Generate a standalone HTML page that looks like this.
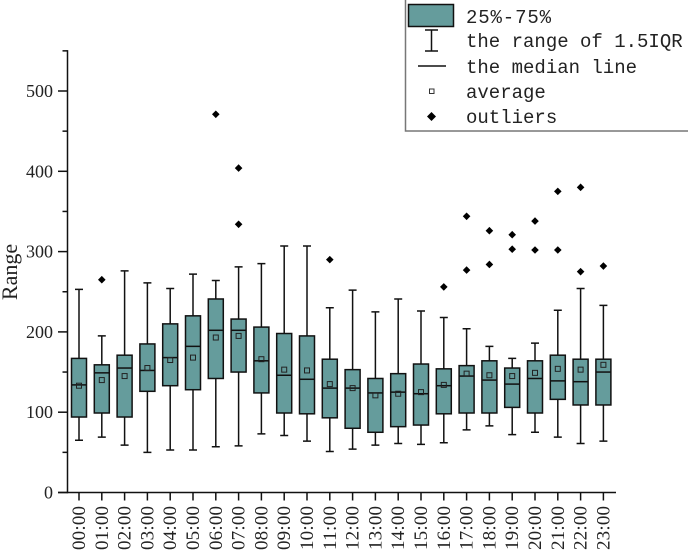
<!DOCTYPE html>
<html>
<head>
<meta charset="utf-8">
<style>
html,body{margin:0;padding:0;background:#fff;width:688px;height:554px;overflow:hidden}
svg{display:block}
.tick{font-family:"Liberation Serif",serif;font-size:18px;fill:#222}
.xtick{font-family:"Liberation Serif",serif;font-size:19px;fill:#222}
.leg{font-family:"Liberation Mono",monospace;font-size:19px;fill:#222}
</style>
</head>
<body>
<svg id="chart" width="688" height="554" viewBox="0 0 688 554" xmlns="http://www.w3.org/2000/svg">
  <g id="plot"></g>
  <g id="axes"></g>
  <text transform="translate(17,272) rotate(-90)" text-anchor="middle" style="font-family:'Liberation Serif',serif;font-size:22px;fill:#222;">Range</text>
  <g>
    <rect x="405.5" y="-2" width="290" height="133" fill="#fff" stroke="#777" stroke-width="1.5"/>
    <rect x="408.5" y="4.5" width="45" height="22" fill="#659c9c" stroke="#111" stroke-width="1.5"/>
    <path d="M425 30H438M431.5 30V51M425 51H438" fill="none" stroke="#111" stroke-width="1.5"/>
    <path d="M418 66H446" stroke="#111" stroke-width="1.5"/>
    <rect x="429.5" y="89" width="4.5" height="4.5" fill="#fff" stroke="#333" stroke-width="1"/>
    <path d="M431.5 112L436 116.5L431.5 121L427 116.5Z" fill="#000"/>
    <text class="leg" x="466" y="23" textLength="85" lengthAdjust="spacing">25%-75%</text>
    <text class="leg" x="466" y="47">the range of 1.5IQR</text>
    <text class="leg" x="466" y="73">the median line</text>
    <text class="leg" x="466" y="98">average</text>
    <text class="leg" x="466" y="123">outliers</text>
  </g>
</svg>
<script>
const categories = ["00:00","01:00","02:00","03:00","04:00","05:00","06:00","07:00","08:00","09:00","10:00","11:00","12:00","13:00","14:00","15:00","16:00","17:00","18:00","19:00","20:00","21:00","22:00","23:00"];
const whiskerHigh = [253,195,276,261,254,272,264,281,285,307,307,230,252,225,241,226,218,204,182,167,186,227,254,233];
const q3 = [167,159,171,185,210,220,241,216,206,198,195,166,153,142,148,160,154,158,164,155,164,171,166,166];
const medians = [134,149,155,152,168,182,202,202,164,146,141,130,130,124,125,123,133,145,140,135,142,139,138,150];
const q1 = [94,99,94,126,133,128,142,150,124,99,98,93,80,75,82,84,98,99,99,106,99,116,109,109];
const whiskerLow = [65,69,59,50,53,53,57,58,73,71,64,51,54,59,61,60,62,78,83,72,75,69,61,64];
const averages = [133,140,145,155,165,168,193,195,166,153,152,135,130,121,123,125,134,148,146,145,149,154,153,159];
const outliers = [[],[265],[],[],[],[],[471],[404,334],[],[],[],[290],[],[],[],[],[256],[344,277],[326,284],[321,303],[338,302],[375,302],[380,275],[282]];
const yMajorTicks = [0,100,200,300,400,500];
const yMinorTicks = [50,150,250,350,450,550];

const NS = "http://www.w3.org/2000/svg";
const plot = document.getElementById("plot");
const axes = document.getElementById("axes");
function xScale(i){ return 79 + i * 22.8; }
function yScale(v){ return 492.5 - v * 0.803; }
function make(parent, tag, attrs){
  const el = document.createElementNS(NS, tag);
  for (const k in attrs) el.setAttribute(k, attrs[k]);
  parent.appendChild(el);
  return el;
}
const INK = "#111";
const BOX_W = 15;
const CAP_W = 8;

categories.forEach(function(cat, i){
  const x = xScale(i);
  const g = make(plot, "g", {});
  
  

  const whisker = make(g, "path", {
    d: "M"+(x-CAP_W/2)+" "+yScale(whiskerHigh[i])+"H"+(x+CAP_W/2)+"M"+x+" "+yScale(whiskerHigh[i])+"V"+yScale(whiskerLow[i])+"M"+(x-CAP_W/2)+" "+yScale(whiskerLow[i])+"H"+(x+CAP_W/2),
    fill: "none", stroke: INK, "stroke-width": 1.5
  });
  
  

  const box = make(g, "rect", {
    x: x-BOX_W/2, y: yScale(q3[i]), width: BOX_W, height: yScale(q1[i])-yScale(q3[i]),
    fill: "#659c9c", stroke: INK, "stroke-width": 1.5
  });
  
  

  const median = make(g, "line", {
    x1: x-BOX_W/2, x2: x+BOX_W/2, y1: yScale(medians[i]), y2: yScale(medians[i]),
    stroke: INK, "stroke-width": 1.5
  });
  
  

  const avg = make(g, "rect", {
    x: x-2.5, y: yScale(averages[i])-2.5, width: 5, height: 5,
    fill: "none", stroke: "#222", "stroke-width": 1
  });
  
  

  outliers[i].forEach(function(v){
    const y = yScale(v);
    const o = make(g, "path", {
      d: "M"+x+" "+(y-3.8)+"L"+(x+3.8)+" "+y+"L"+x+" "+(y+3.8)+"L"+(x-3.8)+" "+y+"Z",
      fill: "#000"
    });
    
    
  });

  const tick = make(axes, "line", {x1: x, x2: x, y1: 492.5, y2: 500.5, stroke: INK, "stroke-width": 1.5});
  
  

  const label = make(axes, "text", {
    transform: "translate("+(x+6)+",506) rotate(-90)", "text-anchor": "end",
    "class": "xtick", textLength: 44, lengthAdjust: "spacing"
  });
  
  
  label.textContent = cat;
});

const yAxisLine = make(axes, "line", {x1: 67.5, x2: 67.5, y1: yScale(550)-0.7, y2: 493.2, stroke: INK, "stroke-width": 1.5});



const xAxisLine = make(axes, "line", {x1: 58, x2: 616, y1: 492.5, y2: 492.5, stroke: INK, "stroke-width": 1.5});



yMajorTicks.forEach(function(v){
  const y = yScale(v);
  const t = make(axes, "line", {x1: 58, x2: 67.5, y1: y, y2: y, stroke: INK, "stroke-width": 1.5});
  
  
  const label = make(axes, "text", {x: 53, y: y+6, "text-anchor": "end", "class": "tick"});
  
  
  label.textContent = v;
});

yMinorTicks.forEach(function(v){
  const y = yScale(v);
  const t = make(axes, "line", {x1: 62.5, x2: 67.5, y1: y, y2: y, stroke: INK, "stroke-width": 1.5});
  
  
});
</script>
</body>
</html>
